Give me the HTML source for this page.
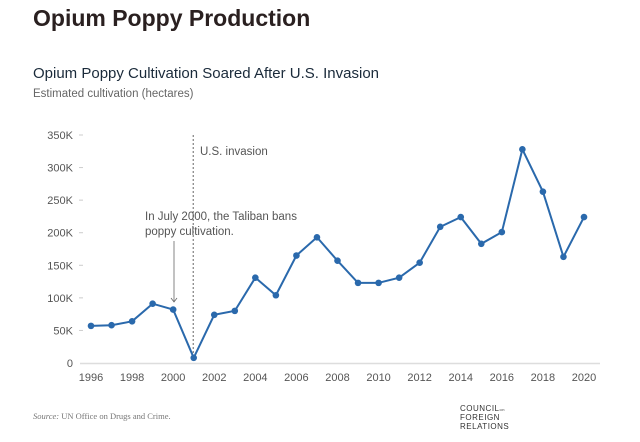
<!DOCTYPE html>
<html><head><meta charset="utf-8"><style>
body{margin:0;width:640px;height:442px;background:#fff;overflow:hidden;font-family:"Liberation Sans",sans-serif;}
svg{position:absolute;left:0;top:0}
</style></head><body>
<svg width="640" height="442" id="chart">
<text x="33" y="26" font-size="23" font-weight="bold" fill="#2a2020">Opium Poppy Production</text>
<text x="33" y="78" font-size="15" fill="#1a2a3a">Opium Poppy Cultivation Soared After U.S. Invasion</text>
<text x="33" y="97" font-size="11.5" fill="#666">Estimated cultivation (hectares)</text>
<g id="axes"></g>
<g id="marks"></g>
<text x="33" y="419" font-size="8.5" font-style="italic" fill="#777" font-family="Liberation Serif,serif">Source: <tspan font-style="normal">UN Office on Drugs and Crime.</tspan></text>
<g font-size="8" fill="#333" letter-spacing="0.5">
<text x="460" y="411">COUNCIL<tspan font-size="4">on</tspan></text>
<text x="460" y="420">FOREIGN</text>
<text x="460" y="429">RELATIONS</text>
</g>
</svg>
<script>
const years=[1996,1997,1998,1999,2000,2001,2002,2003,2004,2005,2006,2007,2008,2009,2010,2011,2012,2013,2014,2015,2016,2017,2018,2019,2020];
const hectares=[57,58,64,91,82,8,74,80,131,104,165,193,157,123,123,131,154,209,224,183,201,328,263,163,224];
const yTicks=[0,50,100,150,200,250,300,350];
const yTickLabels=["0","50K","100K","150K","200K","250K","300K","350K"];
const xTicks=[1996,1998,2000,2002,2004,2006,2008,2010,2012,2014,2016,2018,2020];
const NS="http://www.w3.org/2000/svg";
const x=v=>91+(v-1996)*(584-91)/24;
const y=v=>363-v*(363-135)/350;
const axes=document.getElementById('axes'),marks=document.getElementById('marks');
function mk(tag,attrs,parent){const e=document.createElementNS(NS,tag);for(const k in attrs)e.setAttribute(k,attrs[k]);parent.appendChild(e);return e;}
yTicks.forEach((t,i)=>{
 const tx=mk('text',{x:73,y:y(t)+4,'font-size':11,fill:'#555','text-anchor':'end'},axes);tx.textContent=yTickLabels[i];
 
 
 if(t>0){const l=mk('line',{x1:79,x2:83,y1:y(t),y2:y(t),stroke:'#ccc'},axes);
 
 }
});
const base=mk('line',{x1:80,x2:600,y1:363.5,y2:363.5,stroke:'#ddd','stroke-width':1.5},axes);


xTicks.forEach(t=>{const tx=mk('text',{x:x(t),y:381,'font-size':11,fill:'#555','text-anchor':'middle'},axes);tx.textContent=t;
 
 });
const inv=mk('line',{x1:x(2001)-0.5,x2:x(2001)-0.5,y1:135,y2:363,stroke:'#666','stroke-dasharray':'2,2'},axes);


const it=mk('text',{x:200,y:155,'font-size':11.5,fill:'#555'},axes);it.textContent='U.S. invasion';


const a1=mk('text',{x:145,y:220,'font-size':11.5,fill:'#555'},axes);a1.textContent='In July 2000, the Taliban bans';


const a2=mk('text',{x:145,y:235,'font-size':11.5,fill:'#555'},axes);a2.textContent='poppy cultivation.';


const arr=mk('path',{d:'M174 241 V302 M171 298 L174 302 L177 298',stroke:'#666',fill:'none','stroke-width':0.8},axes);


const pl=mk('polyline',{points:years.map((yr,i)=>x(yr)+','+y(hectares[i])).join(' '),fill:'none',stroke:'#2a69ac','stroke-width':2},marks);


years.forEach((yr,i)=>{const c=mk('circle',{cx:x(yr),cy:y(hectares[i]),r:3.3,fill:'#2a69ac'},marks);
 
 });
</script>
</body></html>
